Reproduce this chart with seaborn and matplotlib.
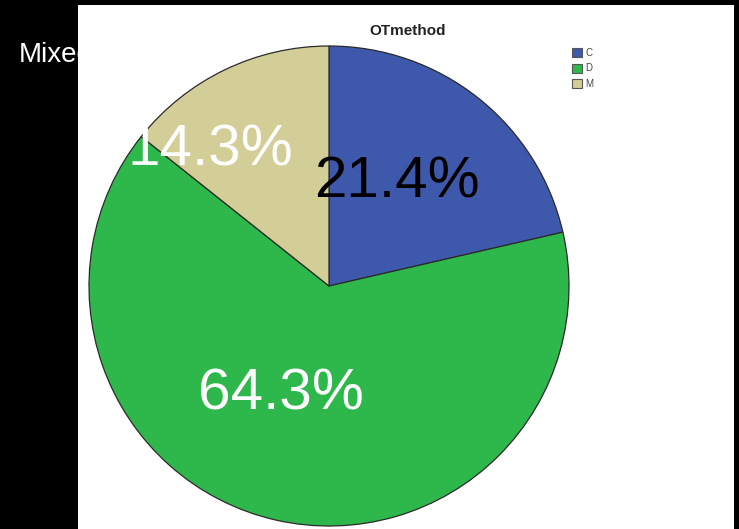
import matplotlib
matplotlib.use("Agg")
import matplotlib.pyplot as plt
from matplotlib.patches import Rectangle, Patch
import seaborn as sns

# Data
categories = ["C", "D", "M"]
percentages = [21.4, 64.3, 14.3]
slice_colors = ["#3E58AC", "#2EB84B", "#D3CE97"]
label_colors = ["black", "white", "white"]
title = "OTmethod"
side_text = "Mixed"

sns.set_theme(style="white")
plt.rcParams["font.family"] = ["Liberation Sans", "DejaVu Sans"]

W, H = 739, 529
fig = plt.figure(figsize=(W / 100, H / 100), dpi=100)
fig.patch.set_facecolor("black")

# Side text partly hidden behind the white chart panel
fig.text(19 / W, 1 - 62 / H, side_text, color="white", fontsize=20,
         ha="left", va="baseline", zorder=-2)

# White chart panel
panel_l, panel_r, panel_t = 78, 734, 5
fig.add_artist(Rectangle((panel_l / W, 0), (panel_r - panel_l) / W, (H - panel_t) / H,
                         transform=fig.transFigure, facecolor="white",
                         edgecolor="none", zorder=-1))

ax = fig.add_axes([panel_l / W, 0, (panel_r - panel_l) / W, (H - panel_t) / H])
cx, cy, r = 329, H - 286, 240
wedges, _ = ax.pie(percentages, colors=slice_colors, startangle=90, counterclock=False,
                   center=(cx, cy), radius=r,
                   wedgeprops=dict(edgecolor="#2a2a2a", linewidth=0.9))
ax.set_xlim(panel_l, panel_r)
ax.set_ylim(0, H - panel_t)
ax.set_aspect("auto")
ax.set_xticks([])
ax.set_yticks([])
for s in ax.spines.values():
    s.set_visible(False)

# Percentage labels (x, baseline y in pixel coordinates)
label_pos = [(397, 197), (281, 410), (210, 166)]
for pct, col, (lx, ly) in zip(percentages, label_colors, label_pos):
    ax.text(lx, H - ly, f"{pct:.1f}%", color=col, fontsize=42,
            ha="center", va="baseline", zorder=5)

fig.text(408 / W, 1 - 31 / H, title, fontsize=11, fontweight="bold",
         ha="center", va="center", color="#222222")

handles = [Patch(facecolor=c, edgecolor="#555555", linewidth=0.8) for c in slice_colors]
fig.legend(handles, categories, loc="upper left",
           bbox_to_anchor=(572 / W, 1 - 48 / H), bbox_transform=fig.transFigure,
           frameon=False, fontsize=7, handlelength=1.05, handleheight=1.05,
           labelspacing=0.55, handletextpad=0.3, borderpad=0, borderaxespad=0,
           labelcolor="#444444")

fig.savefig("out.png", dpi=100, facecolor=fig.get_facecolor())
